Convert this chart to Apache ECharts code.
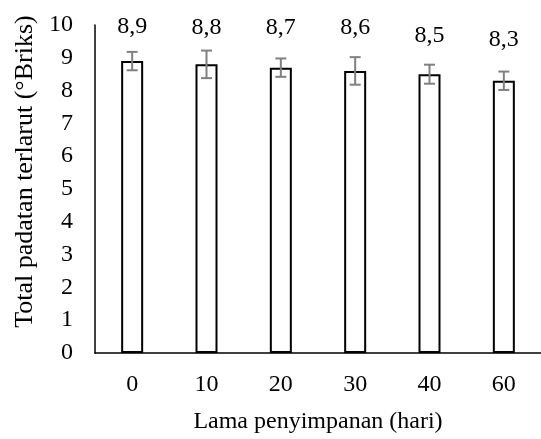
<!DOCTYPE html>
<html>
<head>
<meta charset="utf-8">
<script src="https://cdn.jsdelivr.net/npm/echarts@6/dist/echarts.min.js"></script>
<style>
  html, body { margin: 0; padding: 0; background: #fff; }
  #chart { width: 541px; height: 439px; }
</style>
</head>
<body>
<div id="chart"></div>
<script>
// Storage time (days) and total soluble solids (°Brix) with standard deviations
const categories = ['0', '10', '20', '30', '40', '60'];
const means = [8.9, 8.8, 8.7, 8.6, 8.5, 8.3];
const errors = [0.28, 0.42, 0.28, 0.42, 0.29, 0.28];
const valueLabels = ['8,9', '8,8', '8,7', '8,6', '8,5', '8,3'];
const yTicks = [0, 1, 2, 3, 4, 5, 6, 7, 8, 9, 10];

// gap between each bar top and its value label (px)
const labelGaps = [22, 25, 28, 31, 26, 29];

const FONT = '"Liberation Serif", "Times New Roman", serif';

const chart = echarts.init(document.getElementById('chart'), null, { renderer: 'canvas' });

const barData = means.map((v, i) => ({
  value: v,
  label: { show: true, position: 'top', distance: labelGaps[i], formatter: valueLabels[i] }
}));

const errData = means.map((v, i) => [i, v - errors[i], v + errors[i]]);

chart.setOption({
  animation: false,
  backgroundColor: '#ffffff',
  grid: { left: 95, right: -8, top: 25, bottom: 79, containLabel: false },
  xAxis: {
    type: 'category',
    data: categories,
    name: 'Lama penyimpanan (hari)',
    nameLocation: 'middle',
    nameGap: 57,
    nameTextStyle: { fontFamily: FONT, fontSize: 24, color: '#000' },
    axisLine: { lineStyle: { color: '#000', width: 1.5 } },
    axisTick: { show: false },
    axisLabel: { fontFamily: FONT, fontSize: 24, color: '#000', margin: 20 }
  },
  yAxis: {
    type: 'value',
    min: yTicks[0],
    max: yTicks[yTicks.length - 1],
    interval: 1,
    name: 'Total padatan terlarut (°Briks)',
    nameLocation: 'middle',
    nameGap: 57,
    nameTextStyle: { fontFamily: FONT, fontSize: 26, color: '#000', padding: [0, 0, 0, 35] },
    axisLine: { show: true, lineStyle: { color: '#000', width: 1.5 } },
    axisTick: { show: false },
    splitLine: { show: false },
    axisLabel: { fontFamily: FONT, fontSize: 24, color: '#000', margin: 22 }
  },
  series: [
    {
      type: 'bar',
      data: barData,
      barWidth: 22,
      itemStyle: { color: '#ffffff', borderColor: '#000000', borderWidth: 2 },
      label: { fontFamily: FONT, fontSize: 24, color: '#000' },
      z: 2
    },
    {
      type: 'custom',
      data: errData,
      z: 3,
      renderItem: function (params, api) {
        const x = api.value(0);
        const lo = api.coord([x, api.value(1)]);
        const hi = api.coord([x, api.value(2)]);
        const half = 5.5;
        const style = { stroke: '#808080', lineWidth: 2 };
        return {
          type: 'group',
          children: [
            { type: 'line', shape: { x1: hi[0], y1: hi[1], x2: lo[0], y2: lo[1] }, style: style },
            { type: 'line', shape: { x1: hi[0] - half, y1: hi[1], x2: hi[0] + half, y2: hi[1] }, style: style },
            { type: 'line', shape: { x1: lo[0] - half, y1: lo[1], x2: lo[0] + half, y2: lo[1] }, style: style }
          ]
        };
      }
    }
  ]
});
</script>
</body>
</html>
